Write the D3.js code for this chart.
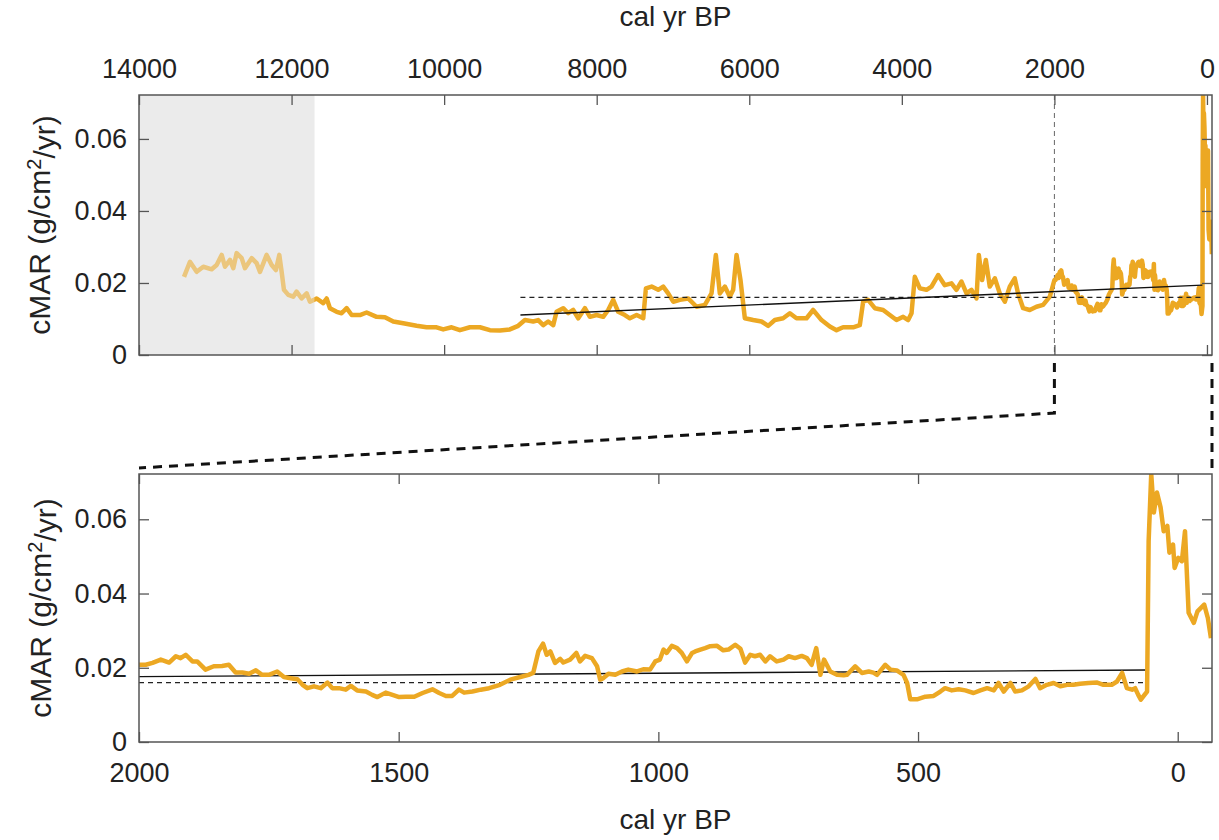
<!DOCTYPE html>
<html>
<head>
<meta charset="utf-8">
<script src="https://cdn.jsdelivr.net/npm/d3@7"></script>
<style>
  body { margin: 0; background: #fff; }
  svg { display: block; }
  text { font-family: "Liberation Sans", Arial, sans-serif; fill: #222; }
</style>
</head>
<body>
<svg id="chart" width="1219" height="840"></svg>
<script>
// cal yr BP and cMAR (g/cm2/yr)
var years = [
  13410, 13332, 13244, 13157, 13047, 12982, 12916, 12873, 12807, 12764,
  12720, 12654, 12611, 12523, 12458, 12414, 12327, 12261, 12205, 12161,
  12130, 12100, 12043, 11978, 11934, 11868, 11802, 11759, 11671, 11585,
  11540, 11497, 11409, 11344, 11278, 11212, 11104, 11016, 10885, 10776,
  10667, 10536, 10361, 10230, 10099, 10012, 9902, 9793, 9662, 9531,
  9400, 9269, 9138, 9029, 8941, 8832, 8767, 8701, 8636, 8570,
  8526, 8439, 8373, 8308, 8242, 8155, 8089, 8001, 7915, 7849,
  7784, 7718, 7631, 7565, 7477, 7390, 7355, 7280, 7194, 7128,
  7063, 6997, 6910, 6801, 6691, 6582, 6495, 6438, 6386, 6320,
  6255, 6211, 6167, 6115, 6058, 5949, 5840, 5752, 5665, 5556,
  5468, 5381, 5249, 5163, 5053, 4944, 4856, 4770, 4639, 4551,
  4507, 4442, 4354, 4245, 4158, 4070, 3983, 3917, 3873, 3830,
  3764, 3677, 3611, 3524, 3437, 3349, 3284, 3218, 3152, 3087,
  3021, 2991, 2947, 2899, 2847, 2781, 2716, 2650, 2585, 2520,
  2476, 2410, 2323, 2235, 2148, 2060,
  2000, 1987, 1974, 1958, 1942, 1929, 1920, 1910, 1897, 1888,
  1872, 1856, 1840, 1827, 1814, 1801, 1788, 1775, 1763, 1750,
  1734, 1721, 1708, 1695, 1685, 1676, 1663, 1650, 1637, 1628,
  1615, 1602, 1592, 1580, 1563, 1551, 1541, 1525, 1512, 1499,
  1486, 1470, 1454, 1435, 1422, 1409, 1397, 1384, 1374, 1358,
  1342, 1326, 1305, 1285, 1266, 1250, 1241, 1231, 1222, 1215,
  1208, 1199, 1189, 1183, 1170, 1158, 1151, 1141, 1128, 1118,
  1112, 1106, 1096, 1083, 1070, 1058, 1041, 1029, 1016, 1006,
  997, 990, 984, 974, 964, 955, 945, 935, 929, 919,
  910, 900, 887, 875, 865, 852, 842, 833, 823, 814,
  804, 794, 785, 772, 759, 749, 737, 724, 714, 705,
  696, 688, 681, 669, 656, 643, 637, 621, 608, 595,
  586, 579, 563, 553, 541, 528, 521, 515, 502, 486,
  470, 457, 448, 435, 422, 409, 393, 380, 367, 354,
  345, 335, 322, 313, 300, 287, 274, 265, 252, 239,
  226, 213, 201, 188, 172, 155, 143, 127, 117, 107,
  98, 88, 82, 76, 71, 64, 59, 56, 51, 46,
  40, 33, 27, 20, 16, 9, 6, -1, -8, -14,
  -21, -31, -38, -51, -58, -64
];
var cmar = [
  0.0217, 0.0259, 0.0231, 0.0245, 0.0238, 0.0250, 0.0278, 0.0245, 0.0264, 0.0241,
  0.0283, 0.0269, 0.0241, 0.0269, 0.0255, 0.0231, 0.0278, 0.0250, 0.0236, 0.0278,
  0.0231, 0.0181, 0.0167, 0.0162, 0.0176, 0.0157, 0.0171, 0.0148, 0.0157, 0.0144,
  0.0157, 0.0130, 0.0120, 0.0116, 0.0130, 0.0111, 0.0111, 0.0118, 0.0106, 0.0105,
  0.0093, 0.0088, 0.0081, 0.0077, 0.0077, 0.0071, 0.0077, 0.0069, 0.0077, 0.0077,
  0.0069, 0.0068, 0.0071, 0.0081, 0.0097, 0.0093, 0.0097, 0.0083, 0.0093, 0.0083,
  0.0120, 0.0130, 0.0116, 0.0125, 0.0102, 0.0130, 0.0106, 0.0111, 0.0106, 0.0125,
  0.0153, 0.0120, 0.0111, 0.0102, 0.0111, 0.0102, 0.0185, 0.0190, 0.0181, 0.0190,
  0.0171, 0.0148, 0.0153, 0.0157, 0.0134, 0.0139, 0.0171, 0.0278, 0.0171, 0.0190,
  0.0162, 0.0181, 0.0278, 0.0208, 0.0102, 0.0097, 0.0093, 0.0081, 0.0097, 0.0102,
  0.0116, 0.0102, 0.0102, 0.0125, 0.0097, 0.0079, 0.0069, 0.0077, 0.0077, 0.0083,
  0.0148, 0.0153, 0.0130, 0.0125, 0.0111, 0.0097, 0.0106, 0.0097, 0.0116, 0.0217,
  0.0185, 0.0181, 0.0190, 0.0222, 0.0194, 0.0199, 0.0181, 0.0204, 0.0171, 0.0181,
  0.0157, 0.0278, 0.0208, 0.0264, 0.0190, 0.0213, 0.0171, 0.0148, 0.0190, 0.0213,
  0.0171, 0.0130, 0.0125, 0.0134, 0.0139, 0.0162,
  0.0208, 0.0208, 0.0213, 0.0222, 0.0214, 0.0231, 0.0226, 0.0235, 0.0217, 0.0217,
  0.0195, 0.0204, 0.0205, 0.0208, 0.0187, 0.0187, 0.0184, 0.0193, 0.0181, 0.0181,
  0.0190, 0.0175, 0.0172, 0.0169, 0.0154, 0.0145, 0.0150, 0.0145, 0.0160, 0.0145,
  0.0145, 0.0141, 0.0151, 0.0139, 0.0136, 0.0127, 0.0121, 0.0133, 0.0127, 0.0121,
  0.0122, 0.0122, 0.0132, 0.0142, 0.0132, 0.0124, 0.0124, 0.0141, 0.0133, 0.0136,
  0.0141, 0.0145, 0.0154, 0.0168, 0.0175, 0.0181, 0.0186, 0.0244, 0.0265, 0.0235,
  0.0244, 0.0213, 0.0224, 0.0214, 0.0222, 0.0240, 0.0217, 0.0232, 0.0226, 0.0204,
  0.0168, 0.0172, 0.0184, 0.0181, 0.0190, 0.0195, 0.0190, 0.0196, 0.0195, 0.0217,
  0.0222, 0.0249, 0.0240, 0.0259, 0.0253, 0.0240, 0.0217, 0.0240, 0.0244, 0.0249,
  0.0253, 0.0258, 0.0259, 0.0247, 0.0249, 0.0262, 0.0251, 0.0214, 0.0235, 0.0231,
  0.0235, 0.0217, 0.0231, 0.0217, 0.0222, 0.0231, 0.0226, 0.0232, 0.0226, 0.0208,
  0.0253, 0.0181, 0.0222, 0.0190, 0.0181, 0.0180, 0.0181, 0.0204, 0.0186, 0.0190,
  0.0187, 0.0181, 0.0208, 0.0195, 0.0193, 0.0181, 0.0159, 0.0115, 0.0115, 0.0122,
  0.0124, 0.0136, 0.0145, 0.0139, 0.0142, 0.0139, 0.0132, 0.0139, 0.0145, 0.0139,
  0.0159, 0.0136, 0.0159, 0.0136, 0.0139, 0.0150, 0.0170, 0.0145, 0.0154, 0.0159,
  0.0150, 0.0154, 0.0154, 0.0157, 0.0159, 0.0160, 0.0154, 0.0154, 0.0163, 0.0186,
  0.0145, 0.0141, 0.0145, 0.0127, 0.0114, 0.0127, 0.0136, 0.0541, 0.0722, 0.0618,
  0.0672, 0.0632, 0.0568, 0.0582, 0.0510, 0.0532, 0.0469, 0.0496, 0.0487, 0.0568,
  0.0348, 0.0321, 0.0352, 0.0370, 0.0334, 0.0280
];

var topTicks = [14000, 12000, 10000, 8000, 6000, 4000, 2000, 0];
var bottomTicks = [2000, 1500, 1000, 500, 0];
var yTicks = [0, 0.02, 0.04, 0.06];
var yTickLabels = ["0", "0.02", "0.04", "0.06"];

// linear trend and mean (from ~9000 cal yr BP to the onset of the recent rise)
var trendYears = [9000, 60];
var trendCmar = [0.0111, 0.0194];
var meanYears = [9000, 60];
var meanCmar = [0.0160, 0.0160];

var lateGlacialEnd = 11700;   // shaded interval older than this
var zoomStart = 2000;         // lower panel starts here

var data = years.map(function(t, i) { return {t: t, v: cmar[i]}; });

var svg = d3.select("#chart");

var x1 = d3.scaleLinear().domain([14000, -66]).range([139, 1212]);
var y1 = d3.scaleLinear().domain([0, 0.0722]).range([355, 95]);
var x2 = d3.scaleLinear().domain([2000, -66]).range([139, 1212]);
var y2 = d3.scaleLinear().domain([0, 0.0722]).range([742, 474]);

var lineColor = "#eca823";
var tickFont = "27px", titleFont = "28px", yTitleFont = "30px";

function drawPanel(g, x, y, id) {
  var x0 = x.range()[0], xw = x.range()[1] - x.range()[0];
  var yt = y.range()[1], yh = y.range()[0] - y.range()[1];

  g.append("clipPath").attr("id", id)
    .append("rect").attr("x", x0).attr("y", yt).attr("width", xw).attr("height", yh);

  var plot = g.append("g").attr("clip-path", "url(#" + id + ")");
  return {plot: plot, x0: x0, xw: xw, yt: yt, yh: yh};
}

function drawAxes(g, x, y, xTickVals, labelsOnTop) {
  var x0 = x.range()[0], x1r = x.range()[1];
  var yt = y.range()[1], yb = y.range()[0];

  var topAx = d3.axisTop(x).tickValues(xTickVals).tickSizeInner(-10).tickSizeOuter(0)
    .tickPadding(17).tickFormat(labelsOnTop ? d3.format("d") : "");
  var botAx = d3.axisBottom(x).tickValues(xTickVals).tickSizeInner(-10).tickSizeOuter(0)
    .tickPadding(21).tickFormat(labelsOnTop ? "" : d3.format("d"));
  var leftAx = d3.axisLeft(y).tickValues(yTicks).tickSizeInner(-10).tickSizeOuter(0)
    .tickPadding(12).tickFormat(function(d, i) { return yTickLabels[i]; });
  var rightAx = d3.axisRight(y).tickValues(yTicks).tickSizeInner(-10).tickSizeOuter(0)
    .tickFormat("");

  [
    [topAx, "translate(0," + yt + ")"],
    [botAx, "translate(0," + yb + ")"],
    [leftAx, "translate(" + x0 + ",0)"],
    [rightAx, "translate(" + x1r + ",0)"]
  ].forEach(function(a) {
    var ax = g.append("g").attr("transform", a[1]).call(a[0]);
    ax.select(".domain").remove();
    ax.selectAll(".tick line").attr("stroke", "#555").attr("stroke-width", 1.3);
    ax.selectAll(".tick text").style("font-size", tickFont).attr("fill", "#222");
  });

  g.append("rect")
    .attr("x", x0).attr("y", yt)
    .attr("width", x1r - x0).attr("height", yb - yt)
    .attr("fill", "none").attr("stroke", "#555").attr("stroke-width", 1.5);
}

function yLabel(g, cx, cy) {
  var t = g.append("text")
    .attr("transform", "translate(" + cx + "," + cy + ") rotate(-90)")
    .attr("text-anchor", "middle")
    .style("font-size", yTitleFont);
  t.append("tspan").text("cMAR (g/cm");
  t.append("tspan").attr("dy", "-0.45em").style("font-size", "20px").text("2");
  t.append("tspan").attr("dy", "0.45em").text("/yr)");
}

var line1 = d3.line().x(function(d) { return x1(d.t); }).y(function(d) { return y1(d.v); });
var line2 = d3.line().x(function(d) { return x2(d.t); }).y(function(d) { return y2(d.v); });

// ---------- top panel ----------
var gTop = svg.append("g");
var p1 = drawPanel(gTop, x1, y1, "clipTop");

p1.plot.append("rect")
  .attr("x", x1(14000)).attr("y", p1.yt)
  .attr("width", x1(lateGlacialEnd) - x1(14000)).attr("height", p1.yh)
  .attr("fill", "#ececec");

p1.plot.append("line")
  .attr("x1", x1(zoomStart)).attr("x2", x1(zoomStart))
  .attr("y1", p1.yt).attr("y2", p1.yt + p1.yh)
  .attr("stroke", "#666").attr("stroke-width", 1).attr("stroke-dasharray", "5,4");

p1.plot.append("path").datum(data)
  .attr("d", line1)
  .attr("fill", "none").attr("stroke", lineColor)
  .attr("stroke-width", 4.5).attr("stroke-linejoin", "round");

// fade the line inside the shaded interval
p1.plot.append("rect")
  .attr("x", x1(14000)).attr("y", p1.yt)
  .attr("width", x1(lateGlacialEnd) - x1(14000)).attr("height", p1.yh)
  .attr("fill", "#ececec").attr("opacity", 0.45);

p1.plot.append("line")
  .attr("x1", x1(meanYears[0])).attr("x2", x1(meanYears[1]))
  .attr("y1", y1(meanCmar[0])).attr("y2", y1(meanCmar[1]))
  .attr("stroke", "#222").attr("stroke-width", 1.3).attr("stroke-dasharray", "5,4");
p1.plot.append("line")
  .attr("x1", x1(trendYears[0])).attr("x2", x1(trendYears[1]))
  .attr("y1", y1(trendCmar[0])).attr("y2", y1(trendCmar[1]))
  .attr("stroke", "#111").attr("stroke-width", 1.4);

drawAxes(gTop, x1, y1, topTicks, true);

gTop.append("text").attr("x", (139 + 1212) / 2).attr("y", 26)
  .attr("text-anchor", "middle").style("font-size", titleFont).text("cal yr BP");
yLabel(gTop, 50, (95 + 355) / 2);

// ---------- bottom panel ----------
var gBot = svg.append("g");
var p2 = drawPanel(gBot, x2, y2, "clipBot");

// trend restricted to the lower panel window
var trendSlope = (trendCmar[1] - trendCmar[0]) / (trendYears[1] - trendYears[0]);
var trendAt2000 = trendCmar[0] + trendSlope * (zoomStart - trendYears[0]);

p2.plot.append("line")
  .attr("x1", x2(zoomStart)).attr("x2", x2(meanYears[1]))
  .attr("y1", y2(meanCmar[0])).attr("y2", y2(meanCmar[1]))
  .attr("stroke", "#222").attr("stroke-width", 1.3).attr("stroke-dasharray", "5,4");
p2.plot.append("line")
  .attr("x1", x2(zoomStart)).attr("x2", x2(trendYears[1]))
  .attr("y1", y2(trendAt2000)).attr("y2", y2(trendCmar[1]))
  .attr("stroke", "#111").attr("stroke-width", 1.4);

p2.plot.append("path").datum(data.filter(function(d) { return d.t <= 2010; }))
  .attr("d", line2)
  .attr("fill", "none").attr("stroke", lineColor)
  .attr("stroke-width", 4.5).attr("stroke-linejoin", "round");

drawAxes(gBot, x2, y2, bottomTicks, false);

gBot.append("text").attr("x", (139 + 1212) / 2).attr("y", 829)
  .attr("text-anchor", "middle").style("font-size", titleFont).text("cal yr BP");
yLabel(gBot, 51, (474 + 742) / 2);

// ---------- zoom connectors ----------
var yGapTop = y1(0) + 8, yBend = y1(0) + 58;
svg.append("path")
  .attr("d", "M" + x1(zoomStart) + "," + yGapTop + "V" + yBend +
             "L" + x2(zoomStart) + "," + (y2.range()[1] - 6))
  .attr("fill", "none").attr("stroke", "#111").attr("stroke-width", 3)
  .attr("stroke-dasharray", "9,7");
svg.append("path")
  .attr("d", "M" + x1(-66) + "," + yGapTop + "V" + (y2.range()[1] - 4))
  .attr("fill", "none").attr("stroke", "#111").attr("stroke-width", 3)
  .attr("stroke-dasharray", "9,7");
</script>
</body>
</html>
